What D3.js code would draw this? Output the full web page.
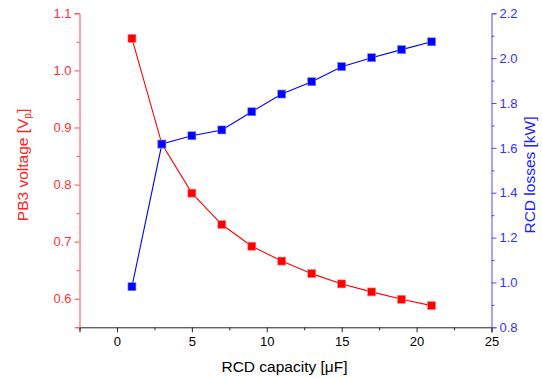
<!DOCTYPE html>
<html lang="en">
<head>
    <meta charset="UTF-8">
    <title>RCD capacity</title>
    <script src="https://d3js.org/d3.v7.min.js"></script>
    <style>
        body { margin: 0; background: #fff; }
        text { font-family: "Liberation Sans", Arial, sans-serif; }
    </style>
</head>
<body>
<svg id="main" width="542" height="378"></svg>
<script>
    // values
    const capacity = [1, 3, 5, 7, 9, 11, 13, 15, 17, 19, 21];
    const voltage = [1.056, 0.871, 0.785, 0.730, 0.692, 0.666, 0.644, 0.626, 0.612, 0.599, 0.588];
    const losses = [0.981, 1.617, 1.654, 1.680, 1.761, 1.840, 1.895, 1.962, 2.002, 2.038, 2.073];
    const xTicks = [0, 5, 10, 15, 20, 25];
    const leftTicks = [0.6, 0.7, 0.8, 0.9, 1.0, 1.1];
    const rightTicks = [0.8, 1.0, 1.2, 1.4, 1.6, 1.8, 2.0, 2.2];

    const red = '#ff0000', blue = '#0000ff';
    const pLeft = 79.5, pRight = 491.5, pTop = 13.3, pBottom = 327.3;
    const font = '"Liberation Sans", Arial, sans-serif';

    let svg = d3.select('svg#main');

    let x = d3.scaleLinear().domain([-2.5, 25]).range([pLeft, pRight]);
    let yL = d3.scaleLinear().domain([0.55, 1.1]).range([pBottom, pTop]);
    let yR = d3.scaleLinear().domain([0.8, 2.2]).range([pBottom, pTop]);

    // minor ticks sit halfway between the labelled ones
    function minors(ticks, step) {
        let out = [];
        ticks.forEach(t => out.push(+(t - step / 2).toFixed(3)));
        return out;
    }

    // bottom axis
    let gx = svg.append('g').attr('transform', `translate(0,${pBottom})`)
        .call(d3.axisBottom(x).tickValues(xTicks).tickSize(5).tickPadding(4).tickFormat(d3.format('d')));
    let gxm = svg.append('g').attr('transform', `translate(0,${pBottom})`)
        .call(d3.axisBottom(x).tickValues(minors(xTicks, 5)).tickSize(3).tickFormat(''));
    gxm.select('.domain').remove();
    [gx, gxm].forEach(g => g.selectAll('.domain, line').attr('stroke', '#222'));
    gx.selectAll('text').attr('font-size', 13).attr('fill', '#000').attr('font-family', font);

    // left axis
    let gl = svg.append('g').attr('transform', `translate(${pLeft},0)`)
        .call(d3.axisLeft(yL).tickValues(leftTicks).tickSize(5).tickPadding(3).tickFormat(d3.format('.1f')));
    let glm = svg.append('g').attr('transform', `translate(${pLeft},0)`)
        .call(d3.axisLeft(yL).tickValues(minors(leftTicks, 0.1)).tickSize(3).tickFormat(''));
    glm.select('.domain').remove();
    [gl, glm].forEach(g => g.selectAll('.domain, line').attr('stroke', '#ff4d4d'));
    gl.selectAll('text').attr('font-size', 13).attr('fill', '#ff3030').attr('font-family', font);

    // right axis
    let gr = svg.append('g').attr('transform', `translate(${pRight},0)`)
        .call(d3.axisRight(yR).tickValues(rightTicks).tickSize(5).tickPadding(3).tickFormat(d3.format('.1f')));
    let grm = svg.append('g').attr('transform', `translate(${pRight},0)`)
        .call(d3.axisRight(yR).tickValues(minors(rightTicks, 0.2).slice(1)).tickSize(3).tickFormat(''));
    grm.select('.domain').remove();
    [gr, grm].forEach(g => g.selectAll('.domain, line').attr('stroke', '#4d4dff'));
    gr.selectAll('text').attr('font-size', 13).attr('fill', '#3030ff').attr('font-family', font);

    // series
    let redPts = capacity.map((c, i) => [c, voltage[i]]);
    let bluePts = capacity.map((c, i) => [c, losses[i]]);

    svg.append('path').datum(redPts)
        .attr('fill', 'none').attr('stroke', red).attr('stroke-width', 1.1)
        .attr('d', d3.line().x(d => x(d[0])).y(d => yL(d[1])));
    svg.append('path').datum(bluePts)
        .attr('fill', 'none').attr('stroke', blue).attr('stroke-width', 1.1)
        .attr('d', d3.line().x(d => x(d[0])).y(d => yR(d[1])));

    svg.append('g').selectAll('rect').data(redPts).enter().append('rect')
        .attr('x', d => x(d[0]) - 4).attr('y', d => yL(d[1]) - 4)
        .attr('width', 8).attr('height', 8)
        .attr('fill', red).attr('stroke', '#ff8080').attr('stroke-width', 0.6);
    svg.append('g').selectAll('rect').data(bluePts).enter().append('rect')
        .attr('x', d => x(d[0]) - 4).attr('y', d => yR(d[1]) - 4)
        .attr('width', 8).attr('height', 8)
        .attr('fill', blue).attr('stroke', '#8080ff').attr('stroke-width', 0.6);

    // axis titles
    svg.append('text').attr('x', 284.5).attr('y', 372)
        .attr('text-anchor', 'middle').attr('font-size', 15.5).attr('fill', '#000')
        .text('RCD capacity [μF]');

    let lt = svg.append('text')
        .attr('transform', `translate(28,165) rotate(-90)`)
        .attr('text-anchor', 'middle').attr('font-size', 15.5).attr('fill', '#ff2020');
    lt.append('tspan').text('PB3 voltage [V');
    lt.append('tspan').attr('font-size', 10).attr('dy', 3).text('p');
    lt.append('tspan').attr('dy', -3).text(']');

    svg.append('text')
        .attr('transform', `translate(535,175) rotate(-90)`)
        .attr('text-anchor', 'middle').attr('font-size', 15.5).attr('fill', '#2020ff')
        .text('RCD losses [kW]');
</script>
</body>
</html>
